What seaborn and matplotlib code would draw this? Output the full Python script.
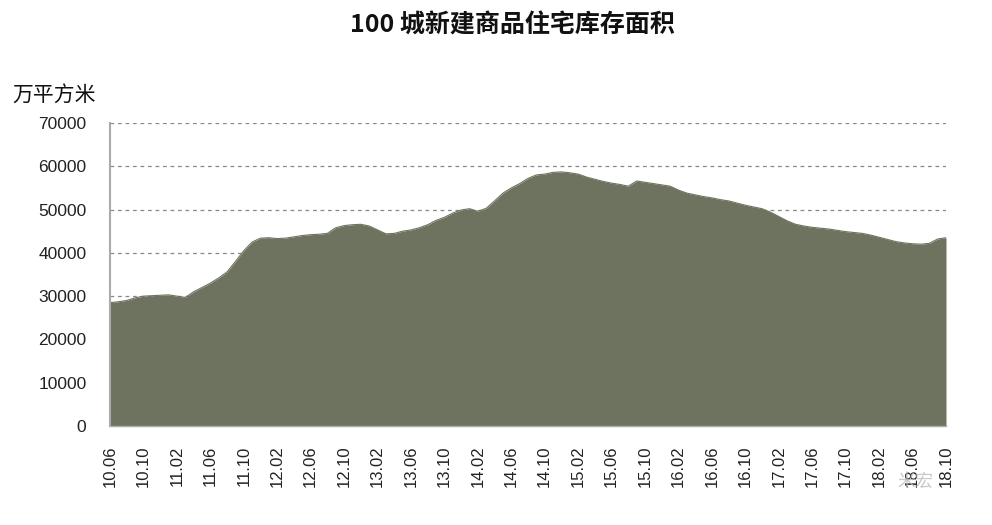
import matplotlib
matplotlib.use("Agg")
import matplotlib.pyplot as plt
import seaborn as sns
import numpy as np
import pandas as pd

sns.set_style("white")
plt.rcParams['font.family'] = ['Liberation Sans', 'Noto Sans CJK SC', 'DejaVu Sans']

# monthly from 2010-06 to 2018-10
months = pd.date_range("2010-06-01", "2018-10-01", freq="MS")
month_labels = [f"{d.year % 100:02d}.{d.month:02d}" for d in months]
inventory = [
    28500, 28700, 29000, 29600, 30000, 30100, 30200, 30300, 30000, 29700,
    31000, 32000, 33000, 34200, 35600, 38000, 40500, 42500, 43400, 43500,
    43300, 43400, 43700, 44000, 44200, 44300, 44500, 45800, 46300, 46500,
    46600, 46200, 45300, 44400, 44500, 45000, 45300, 45800, 46500, 47500,
    48200, 49200, 49900, 50200, 49600, 50300, 52000, 53800, 55000, 56000,
    57200, 58000, 58200, 58600, 58700, 58500, 58200, 57500, 57000, 56500,
    56100, 55800, 55400, 56600, 56300, 56000, 55700, 55400, 54500, 53800,
    53400, 53000, 52700, 52300, 52000, 51500, 51000, 50600, 50200, 49400,
    48400, 47400, 46600, 46200, 45900, 45700, 45500, 45200, 44900, 44700,
    44500, 44100, 43600, 43100, 42600, 42300, 42100, 42000, 42200, 43200,
    43500,
]
yticks = [0, 10000, 20000, 30000, 40000, 50000, 60000, 70000]
title = "100 城新建商品住宅库存面积"
unit = "万平方米"

df = pd.DataFrame({"idx": np.arange(len(inventory)), "value": inventory})
color = "#6d735f"

fig = plt.figure(figsize=(9.92, 5.25), dpi=100)
ax = fig.add_axes([110/992, 1-426/525, (946-110)/992, (426-123)/525])

sns.lineplot(data=df, x="idx", y="value", ax=ax, color=color, linewidth=0.8)
ax.fill_between(df["idx"], 0, df["value"], color=color, linewidth=0)

ax.set_xlim(0, len(inventory) - 1)
ax.set_ylim(0, 70000)
ax.set_yticks(yticks)
ax.set_yticklabels([str(v) for v in yticks], fontsize=12.5, color="#222222")
major = list(range(0, len(inventory), 4))
ax.set_xticks(major)
ax.set_xticklabels([month_labels[i] for i in major], rotation=90, fontsize=12, color="#222222")
ax.set_xticks(np.arange(len(inventory)), minor=True)
ax.tick_params(axis="x", which="both", direction="out", length=4, color="#aaaaaa", width=0.8, pad=10)
ax.tick_params(axis="y", which="major", direction="out", length=3, color="#aaaaaa", pad=14)

for v in yticks[1:]:
    ax.axhline(v, color="#888888", linestyle=(0, (3, 3)), linewidth=0.9, zorder=0)

ax.set_xlabel("")
ax.set_ylabel("")
for s in ["top", "right"]:
    ax.spines[s].set_visible(False)
ax.spines["left"].set_color("#aaaaaa")
ax.spines["left"].set_linewidth(1.5)
ax.spines["bottom"].set_color("#aaaaaa")
ax.spines["bottom"].set_linewidth(1.0)

fig.text(512/992, 1-25/525, title, ha="center", va="center", fontsize=18,
         fontweight="bold", family=['Noto Sans CJK SC', 'DejaVu Sans'], color="#111111")
fig.text(12/992, 1-95/525, unit, ha="left", va="center", fontsize=15,
         family=['Noto Sans CJK SC', 'DejaVu Sans'], color="#111111")
fig.text(915/992, 1-482/525, "米宏", ha="center", va="center", fontsize=13,
         family=['Noto Sans CJK SC', 'DejaVu Sans'], color="#bbbbbb", alpha=0.8)

fig.savefig("out.png", dpi=100, facecolor="white")
